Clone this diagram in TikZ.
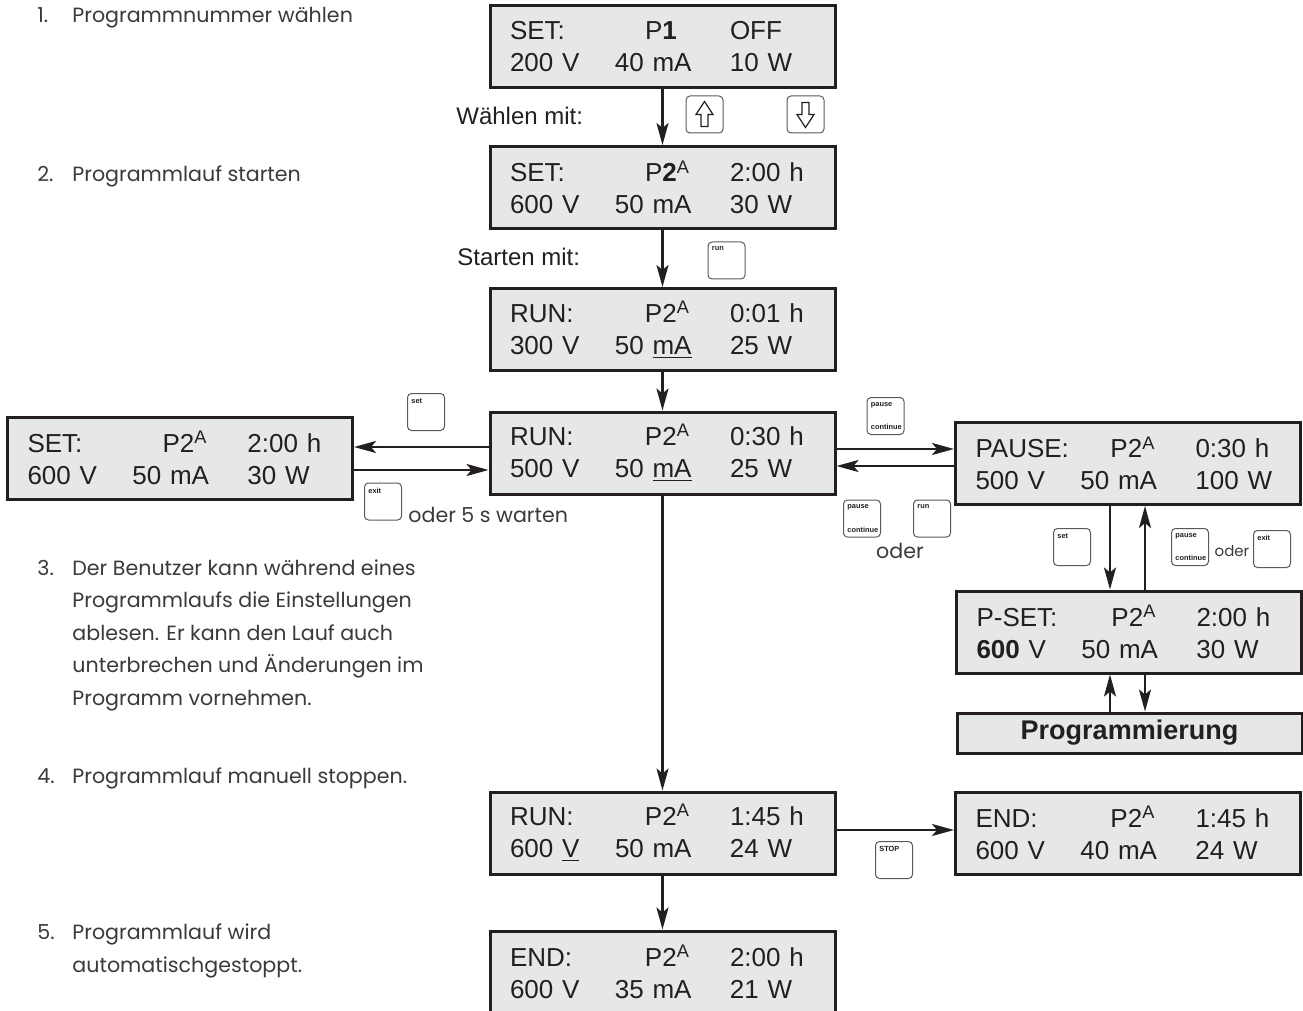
\documentclass[tikz,border=0pt]{standalone}
\usepackage{fontspec}
\usepackage{tikz}
\usetikzlibrary{arrows.meta, positioning, calc}
\newfontfamily\lcdfont{Liberation Sans}
\newfontfamily\notefont{Poppins}
\definecolor{lcdgray}{HTML}{E6E7E8}
\definecolor{lcdline}{HTML}{231F20}
\definecolor{keyline}{HTML}{5A5A5A}
\definecolor{notegray}{HTML}{3A3A3A}

% two display rows, three columns each
\newcommand{\lcdrows}[6]{\makebox[67.5pt][l]{#1}\makebox[42.5pt][l]{#2}#3\\
  \makebox[52.5pt][l]{#4}\makebox[57.5pt][l]{#5}#6}
\newcommand{\ptwo}{P2\textsuperscript{A}}

\begin{document}
\begin{tikzpicture}[x=0.5pt, y=-0.5pt,
    lcd/.style={rectangle, draw=lcdline, line width=1.5pt, fill=lcdgray,
                text width=152.5pt, inner xsep=10pt, inner ysep=0pt,
                minimum height=41pt, align=left, text=lcdline,
                font=\lcdfont\fontsize{13}{16}\selectfont},
    keybox/.style={rectangle, draw=keyline, line width=0.5pt, rounded corners=2pt,
                   fill=white, minimum size=18.5pt, inner sep=0pt},
    keytxt/.style={font=\lcdfont\bfseries\fontsize{3.7}{4}\selectfont,
                   inner xsep=2pt, inner ysep=2.5pt, text=lcdline},
    arr/.style={line width=1.2pt, draw=lcdline,
                -{Stealth[length=11pt, width=6pt, inset=2.5pt]}},
    note/.style={font=\notefont\fontsize{10.3}{16.25}\selectfont, text=notegray,
                 anchor=west, align=left, inner sep=0pt},
    hint/.style={font=\lcdfont\fontsize{12}{14}\selectfont, text=lcdline,
                 anchor=west, inner sep=0pt},
]
\useasboundingbox (0,0) rectangle (1303,1011);
\clip (0,0) rectangle (1303,1011);

% steps on the left
\node[note] (step1) at (37,18) {\makebox[17.5pt][l]{1.}Programmnummer wählen};
\node[note] (step2) at (37,176) {\makebox[17.5pt][l]{2.}Programmlauf starten};
\node[note] (step3) at (37,635) {\makebox[17.5pt][l]{3.}Der Benutzer kann während eines\\
    \hspace*{17.5pt}Programmlaufs die Einstellungen\\
    \hspace*{17.5pt}ablesen. Er kann den Lauf auch\\
    \hspace*{17.5pt}unterbrechen und Änderungen im\\
    \hspace*{17.5pt}Programm vornehmen.};
\node[note] (step4) at (37,778) {\makebox[17.5pt][l]{4.}Programmlauf manuell stoppen.};
\node[note] (step5) at (37,951) {\makebox[17.5pt][l]{5.}Programmlauf wird\\
    \hspace*{17.5pt}automatischgestoppt.};

% displays
\node[lcd] (d1) at (662.5,47) {\lcdrows{SET:}{P\textbf{1}}{OFF}{200 V}{40 mA}{10 W}};
\node[lcd] (d2) at (662.5,187.5) {\lcdrows{SET:}{P\textbf{2}\textsuperscript{A}}{2:00 h}{600 V}{50 mA}{30 W}};
\node[lcd] (d3) at (662.5,329.5) {\lcdrows{RUN:}{\ptwo}{0:01 h}{300 V}{50 \underline{mA}}{25 W}};
\node[lcd] (d4) at (662.5,453) {\lcdrows{RUN:}{\ptwo}{0:30 h}{500 V}{50 \underline{mA}}{25 W}};
\node[lcd] (lset) at (180,458) {\lcdrows{SET:}{\ptwo}{2:00 h}{600 V}{50 mA}{30 W}};
\node[lcd] (pause) at (1128,463.5) {\lcdrows{PAUSE:}{\ptwo}{0:30 h}{500 V}{50 mA}{100 W}};
\node[lcd] (pset) at (1129,632) {\lcdrows{P-SET:}{\ptwo}{2:00 h}{\textbf{600} V}{50 mA}{30 W}};
\node[lcd, minimum height=20pt, align=center, font=\lcdfont\bfseries\fontsize{13.5}{16}\selectfont]
    (prog) at (1129.5,733) {Programmierung};
\node[lcd] (d5) at (662.5,833) {\lcdrows{RUN:}{\ptwo}{1:45 h}{600 \underline{V}}{50 mA}{24 W}};
\node[lcd] (endr) at (1128,833) {\lcdrows{END:}{\ptwo}{1:45 h}{600 V}{40 mA}{24 W}};
\node[lcd] (d6) at (662.5,972) {\lcdrows{END:}{\ptwo}{2:00 h}{600 V}{35 mA}{21 W}};

% keys
\node[keybox] (kup) at (704.5,114.5) {};
\node[keybox] (kdown) at (805.5,114.5) {};
\draw[lcdline, line width=0.6pt] (kup.center) ++(-3.5,12) -- ++(7,0) -- ++(0,-12)
    -- ++(5,0) -- ++(-8.5,-13) -- ++(-8.5,13) -- ++(5,0) -- cycle;
\draw[lcdline, line width=0.6pt] (kdown.center) ++(-3.5,-12) -- ++(7,0) -- ++(0,12)
    -- ++(5,0) -- ++(-8.5,13) -- ++(-8.5,-13) -- ++(5,0) -- cycle;
\node[keybox, label={[keytxt, anchor=north west]north west:run}] (krun) at (726.5,260.5) {};
\node[keybox, label={[keytxt, anchor=north west]north west:set}] (kset) at (426,412) {};
\node[keybox, label={[keytxt, anchor=north west]north west:exit}] (kexit) at (383,501.5) {};
\node[keybox, label={[keytxt, anchor=north west]north west:pause},
      label={[keytxt, anchor=south west]south west:continue}] (kpause) at (885.5,416) {};
\node[keybox, label={[keytxt, anchor=north west]north west:pause},
      label={[keytxt, anchor=south west]south west:continue}] (kpauseb) at (862,518.5) {};
\node[keybox, label={[keytxt, anchor=north west]north west:run}] (krunb) at (932,518.5) {};
\node[keybox, label={[keytxt, anchor=north west]north west:set}] (ksetp) at (1072,547) {};
\node[keybox, label={[keytxt, anchor=north west]north west:pause},
      label={[keytxt, anchor=south west]south west:continue}] (kpausep) at (1190,547) {};
\node[keybox, label={[keytxt, anchor=north west]north west:exit}] (kexitp) at (1272,549) {};
\node[keybox, label={[keytxt, anchor=north west]north west:STOP}] (kstop) at (894,860) {};

% hints
\node[hint] (pick) at (456,116) {Wählen mit:};
\node[hint] (start) at (457,257) {Starten mit:};
\node[note] (wait) at (408,515) {oder 5 s warten};
\node[note, anchor=center] (or1) at (900,551) {oder};
\node[note, anchor=center, font=\notefont\fontsize{7.5}{9}\selectfont] (or2) at (1232,551) {oder};

% connectors
\draw[arr] (d1) -- (d2);
\draw[arr] (d2) -- (d3);
\draw[arr] (d3) -- (d4);
\draw[arr] (d4) -- (d5);
\draw[arr] (d5) -- (d6);
\draw[arr] ([yshift=3pt]d4.west) -- ([yshift=3pt]d4.west -| lset.east);
\draw[arr] ([yshift=-8.5pt]d4.west -| lset.east) -- ([yshift=-8.5pt]d4.west);
\draw[arr] ([yshift=2pt]d4.east) -- ([yshift=2pt]d4.east -| pause.west);
\draw[arr] ([yshift=-6.5pt]d4.east -| pause.west) -- ([yshift=-6.5pt]d4.east);
\draw[arr] ([xshift=-9pt]pause.south) -- ([xshift=-9pt]pause.south |- pset.north);
\draw[arr] ([xshift=8.5pt]pause.south |- pset.north) -- ([xshift=8.5pt]pause.south);
\draw[arr] ([xshift=-9.5pt]pset.south |- prog.north) -- ([xshift=-9.5pt]pset.south);
\draw[arr] ([xshift=8pt]pset.south) -- ([xshift=8pt]pset.south |- prog.north);
\draw[arr] ([yshift=1.5pt]d5.east) -- ([yshift=1.5pt]d5.east -| endr.west);
\end{tikzpicture}
\end{document}
